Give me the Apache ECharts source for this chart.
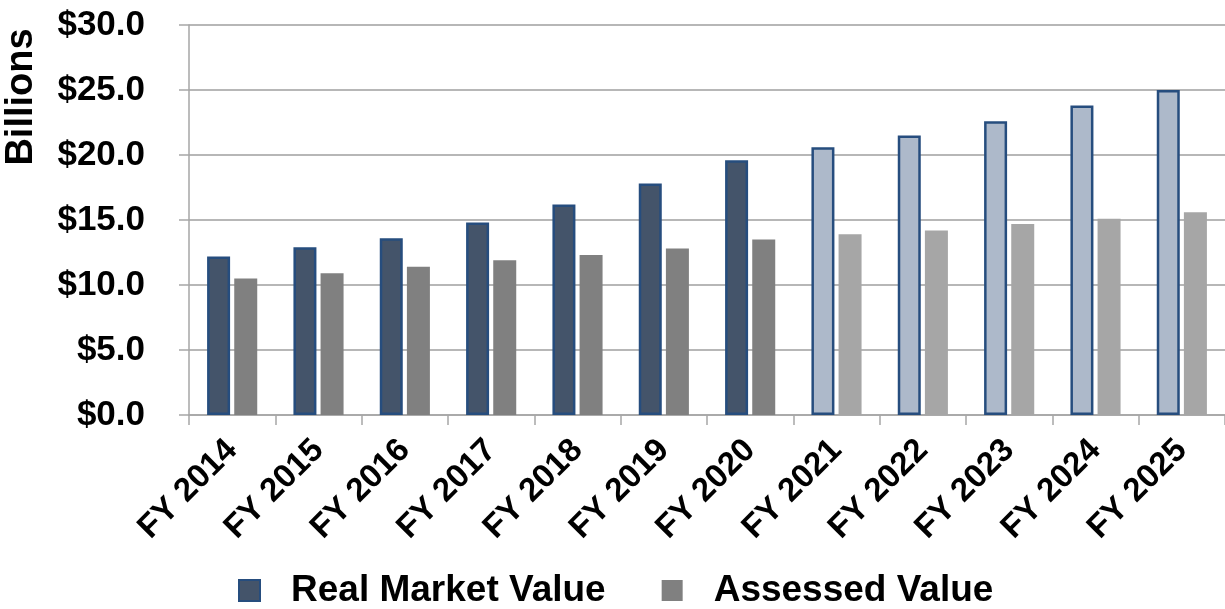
<!DOCTYPE html>
<html>
<head>
<meta charset="utf-8">
<script src="https://cdn.jsdelivr.net/npm/echarts@6/dist/echarts.min.js"></script>
<style>
  html, body { margin: 0; padding: 0; background: #fff; }
  #chart { width: 1225px; height: 609px; }
</style>
</head>
<body>
<div id="chart"></div>
<script>
// ---- data ----
const categories = ['FY 2014','FY 2015','FY 2016','FY 2017','FY 2018','FY 2019','FY 2020','FY 2021','FY 2022','FY 2023','FY 2024','FY 2025'];
const realMarketValue = [12.2, 12.9, 13.6, 14.8, 16.2, 17.8, 19.6, 20.6, 21.5, 22.6, 23.8, 25.0];
const assessedValue   = [10.5, 10.9, 11.4, 11.9, 12.3, 12.8, 13.5, 13.9, 14.2, 14.7, 15.1, 15.6];
const firstProjectedIndex = 7; // FY 2021 onward are projections
const yTicks = [0, 5, 10, 15, 20, 25, 30];

const FONT = '"Liberation Sans", Arial, Helvetica, sans-serif';
const chart = echarts.init(document.getElementById('chart'), null, { renderer: 'canvas' });

const rmvData = realMarketValue.map((v, i) => ({
  value: v,
  itemStyle: { color: i >= firstProjectedIndex ? '#ADB9CA' : '#44546A' }
}));
const avData = assessedValue.map((v, i) => ({
  value: v,
  itemStyle: { color: i >= firstProjectedIndex ? '#A6A6A6' : '#808080' }
}));

chart.setOption({
  animation: false,
  backgroundColor: '#ffffff',
  grid: { left: 189, right: 0, top: 25, bottom: 194, containLabel: false },
  graphic: [{
    type: 'text',
    x: 22, y: 97,
    rotation: Math.PI / 2,
    style: {
      text: 'Billions',
      font: 'bold 38px ' + FONT,
      fill: '#000',
      align: 'center',
      verticalAlign: 'middle'
    }
  }],
  legend: {
    left: 233,
    top: 567,
    itemWidth: 21,
    itemHeight: 21,
    itemGap: 56,
    textStyle: { fontSize: 37, fontWeight: 'bold', fontFamily: FONT, color: '#000', padding: [0, 0, 0, 26] },
    data: [
      { name: 'Real Market Value', icon: 'rect', itemStyle: { color: '#44546A', borderColor: '#264D7E', borderWidth: 2 } },
      { name: 'Assessed Value', icon: 'rect', itemStyle: { color: '#808080', borderWidth: 0 } }
    ]
  },
  xAxis: {
    type: 'category',
    data: categories,
    axisLine: { show: true, lineStyle: { color: '#A6A6A6', width: 1.5 } },
    axisTick: { show: true, alignWithLabel: false, length: 10, lineStyle: { color: '#A6A6A6', width: 1.5 } },
    axisLabel: {
      rotate: 45,
      margin: 30,
      interval: 0,
      fontSize: 33,
      fontWeight: 'bold',
      fontFamily: FONT,
      color: '#000'
    }
  },
  yAxis: {
    type: 'value',
    min: yTicks[0],
    max: yTicks[yTicks.length - 1],
    interval: yTicks[1] - yTicks[0],
    axisLine: { show: true, lineStyle: { color: '#A6A6A6', width: 1.5 } },
    axisTick: { show: true, length: 10, lineStyle: { color: '#A6A6A6', width: 1.5 } },
    splitLine: { show: true, lineStyle: { color: '#9F9F9F', width: 1.5 } },
    axisLabel: {
      margin: 44,
      fontSize: 35,
      fontWeight: 'bold',
      fontFamily: FONT,
      color: '#000',
      formatter: v => '$' + v.toFixed(1)
    }
  },
  series: [
    {
      name: 'Real Market Value',
      type: 'bar',
      data: rmvData,
      barWidth: 23,
      barGap: '18%',
      itemStyle: { borderColor: '#264D7E', borderWidth: 2.5 }
    },
    {
      name: 'Assessed Value',
      type: 'bar',
      data: avData,
      barWidth: 23,
      barGap: '18%'
    }
  ]
});
</script>
</body>
</html>
